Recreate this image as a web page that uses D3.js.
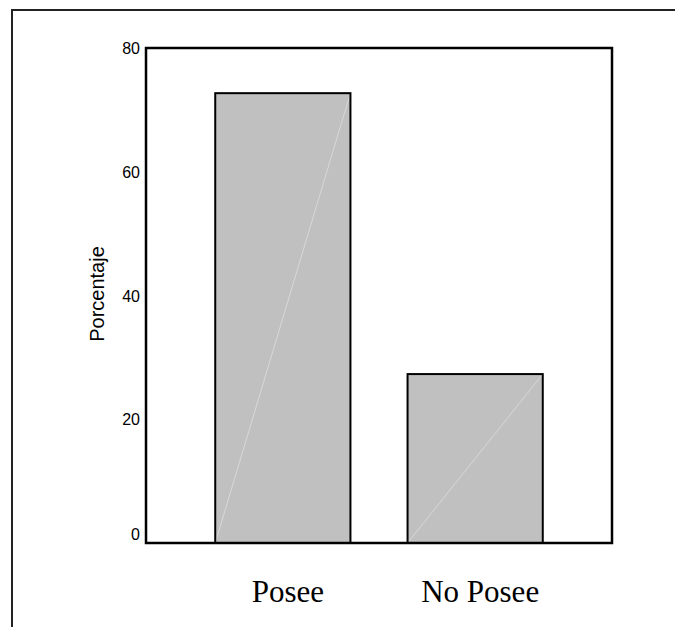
<!DOCTYPE html>
<html>
<head>
<meta charset="utf-8">
<script src="https://cdn.jsdelivr.net/npm/d3@7"></script>
<style>
  html, body { margin: 0; padding: 0; background: #fff; }
  svg { display: block; }
</style>
</head>
<body>
<div id="chart"></div>
<script>
const categories = ["Posee", "No Posee"];
const values = [72.7, 27.3];
const yTicks = [0, 20, 40, 60, 80];
const yTitle = "Porcentaje";

const W = 675, H = 627;
const plot = { left: 146, top: 48, right: 612, bottom: 543 };

const svg = d3.select("#chart").append("svg")
  .attr("width", W).attr("height", H);

// outer frame (left and top edges visible)
svg.append("path")
  .attr("d", `M12,${H} V10 H${W}`)
  .attr("fill", "none")
  .attr("stroke", "#222")
  .attr("stroke-width", 2);

const x = d3.scaleBand()
  .domain(categories)
  .range([plot.left, plot.right])
  .paddingInner(0.297)
  .paddingOuter(0.36);

const y = d3.scaleLinear()
  .domain([0, 80])
  .range([plot.bottom, plot.top]);

// bars
const bars = svg.append("g");
categories.forEach((c, i) => {
  const x0 = x(c), bw = x.bandwidth();
  const y0 = y(values[i]), yb = y(0);
  bars.append("rect")
    .attr("x", x0).attr("y", y0)
    .attr("width", bw).attr("height", yb - y0)
    .attr("fill", "#c0c0c0");
  bars.append("line")
    .attr("x1", x0).attr("y1", yb)
    .attr("x2", x0 + bw).attr("y2", y0)
    .attr("stroke", "#d8d8d8").attr("stroke-width", 1);
  bars.append("rect")
    .attr("x", x0).attr("y", y0)
    .attr("width", bw).attr("height", yb - y0)
    .attr("fill", "none")
    .attr("stroke", "#000").attr("stroke-width", 2);
});

// plot frame
svg.append("rect")
  .attr("x", plot.left).attr("y", plot.top)
  .attr("width", plot.right - plot.left)
  .attr("height", plot.bottom - plot.top)
  .attr("fill", "none")
  .attr("stroke", "#000").attr("stroke-width", 2.5);

// y axis
const yAxis = svg.append("g")
  .attr("transform", `translate(${plot.left},0)`)
  .call(d3.axisLeft(y).tickValues(yTicks).tickSize(0).tickPadding(6).tickFormat(d3.format("d")));
yAxis.select(".domain").remove();
yAxis.selectAll("text")
  .attr("font-family", "'Liberation Sans', Arial, sans-serif")
  .attr("font-size", 16)
  .attr("fill", "#000")
  .attr("dy", d => d === 0 ? "-0.2em" : "0.35em");

// x axis labels
const xAxis = svg.append("g")
  .attr("transform", `translate(0,${plot.bottom})`)
  .call(d3.axisBottom(x).tickSize(0).tickPadding(0));
xAxis.select(".domain").remove();
xAxis.selectAll("text")
  .attr("font-family", "'Liberation Serif', 'Times New Roman', serif")
  .attr("font-size", 31)
  .attr("fill", "#000")
  .attr("dx", 5)
  .attr("dy", 0)
  .attr("y", 59);

// y title
svg.append("text")
  .attr("transform", `translate(103.5,294) rotate(-90)`)
  .attr("text-anchor", "middle")
  .attr("font-family", "'Liberation Sans', Arial, sans-serif")
  .attr("font-size", 20)
  .attr("fill", "#000")
  .text(yTitle);
</script>
</body>
</html>
